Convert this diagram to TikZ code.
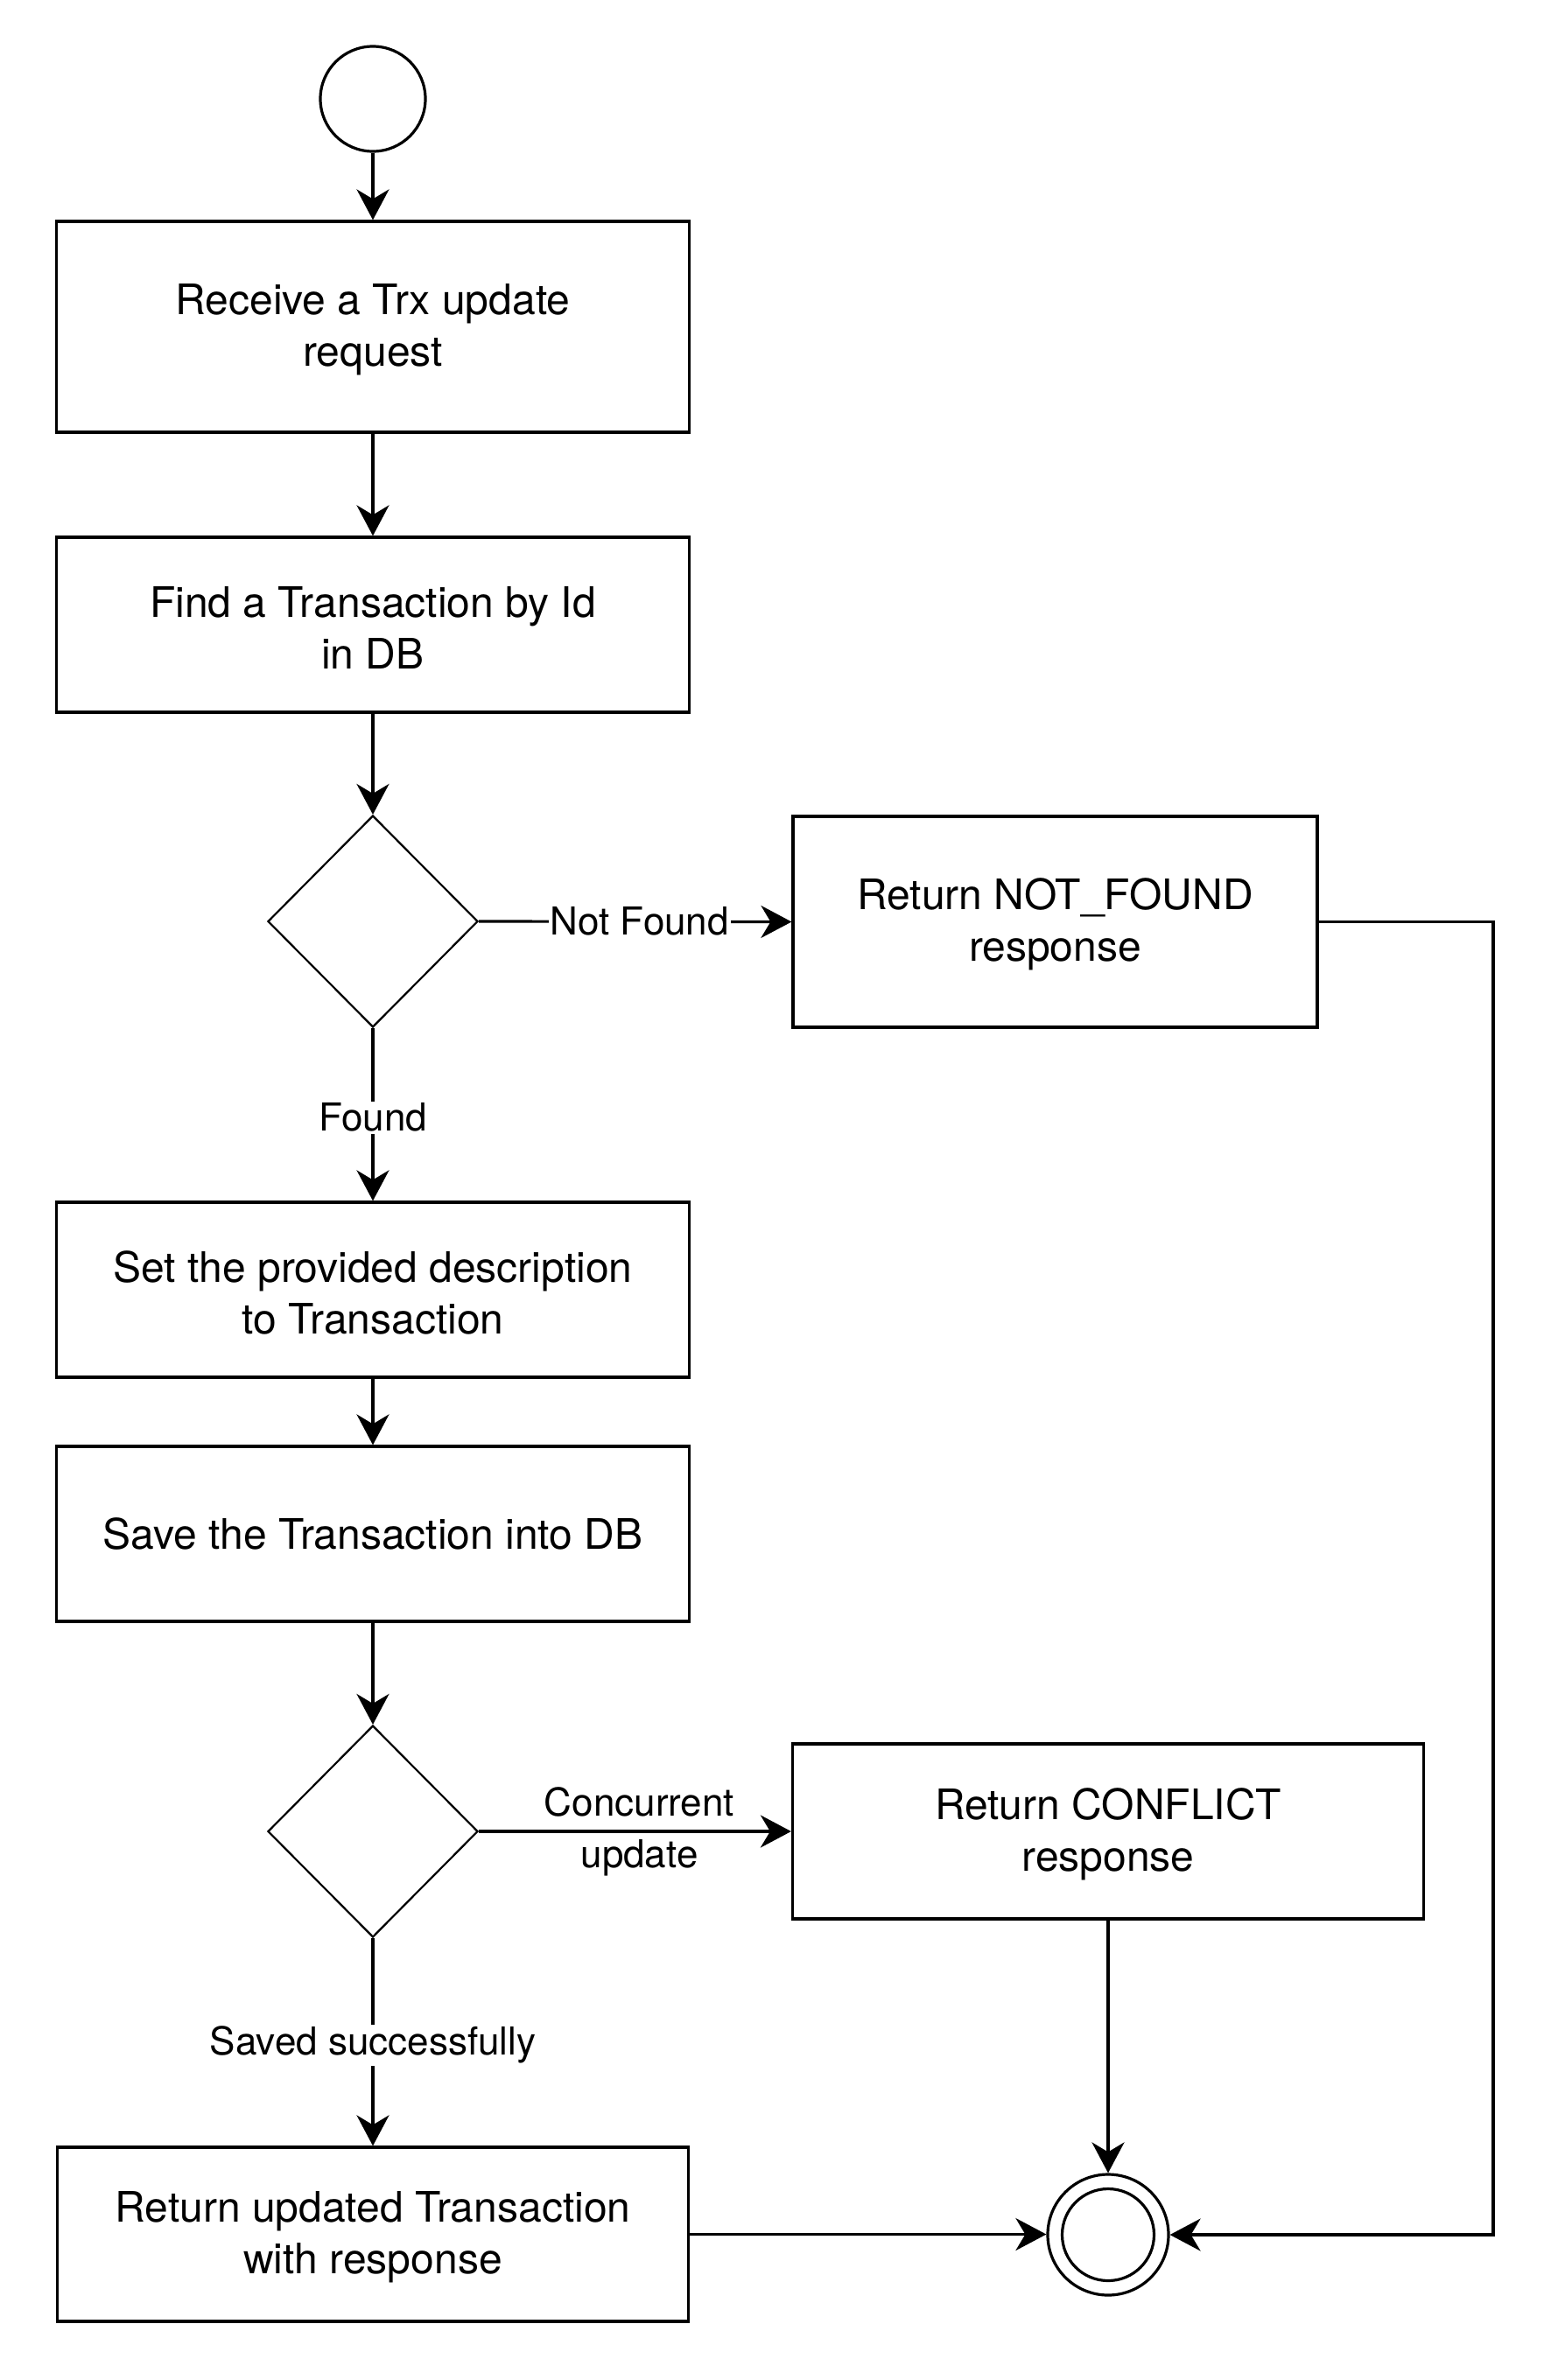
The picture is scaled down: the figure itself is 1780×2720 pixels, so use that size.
\documentclass[tikz,border=0pt]{standalone}
\usepackage{fontspec}
\setmainfont{TeX Gyre Heros}
\usetikzlibrary{shapes.geometric,arrows.meta}
\newcommand\topstrut{\rule{0pt}{21pt}}
\begin{document}
\begin{tikzpicture}[x=0.5pt,y=-0.5pt,
  box/.style={draw, line width=1.6pt, rectangle, inner sep=0pt, align=center, font=\fontsize{24}{29.5}\selectfont},
  dec/.style={draw, diamond, line width=1.1pt, inner sep=0pt, minimum width=120pt, minimum height=121pt},
  flow/.style={line width=1.6pt, -{Stealth[length=17.5pt,width=18.5pt,inset=5.5pt]}},
  lbl/.style={font=\fontsize{22}{27.5}\selectfont, align=center, inner sep=1pt},
]
\useasboundingbox (0,0) rectangle (1780,2720);

\node[draw, circle, line width=1.6pt, minimum size=60pt, inner sep=0pt] (start) at (426,113) {};
\node[box, minimum width=361.5pt, minimum height=120.5pt] (b1) at (426,373.5) {\topstrut Receive a Trx update\\request};
\node[box, minimum width=361.5pt, minimum height=100pt] (b2) at (426,714) {\topstrut Find a Transaction by Id\\in DB};
\node[dec] (d1) at (426,1053) {};
\node[box, minimum width=299.5pt, minimum height=120.5pt] (nf) at (1205.5,1053.5) {\topstrut Return NOT\_FOUND\\response};
\node[box, minimum width=361.5pt, minimum height=100pt] (b3) at (426,1474) {\topstrut Set the provided description\\to Transaction};
\node[box, minimum width=361.5pt, minimum height=100pt] (b4) at (426,1753) {Save the Transaction into DB};
\node[dec] (d2) at (426,2093) {};
\node[box, minimum width=360.5pt, minimum height=100pt] (cf) at (1266,2093) {\topstrut Return CONFLICT\\response};
\node[box, minimum width=360.5pt, minimum height=99.5pt] (b5) at (426,2553.5) {\topstrut Return updated Transaction\\with response};
\node[draw, circle, line width=1.6pt, minimum size=69pt, inner sep=0pt] (end) at (1266,2554) {};
\node[draw, circle, line width=1.6pt, minimum size=52.5pt, inner sep=0pt] (endin) at (1266,2554) {};
\coordinate (nfcorner) at (1706,1053.5);

\draw[flow] (start) -- (b1);
\draw[flow] (b1) -- (b2);
\draw[flow] (b2) -- (d1.north);
\draw[flow] (d1.east) -- node[lbl, fill=white, xshift=2.5pt] {Not Found} (nf.west);
\draw[flow] (d1.south) -- node[lbl, fill=white, yshift=-1.75pt] {Found} (b3.north);
\draw[flow] (b3) -- (b4);
\draw[flow] (b4) -- (d2.north);
\draw[flow] (d2.east) -- node[lbl, xshift=2.5pt] {Concurrent\\[2pt]update} (cf.west);
\draw[flow] (d2.south) -- node[lbl, fill=white, yshift=-1.75pt] {Saved successfully} (b5.north);
\draw[flow] (b5.east) -- (b5.east -| end.west);
\draw[flow] (cf.south) -- (end.north);
\draw[flow] (nf.east) -- (nfcorner) |- (end.east);
\end{tikzpicture}
\end{document}
